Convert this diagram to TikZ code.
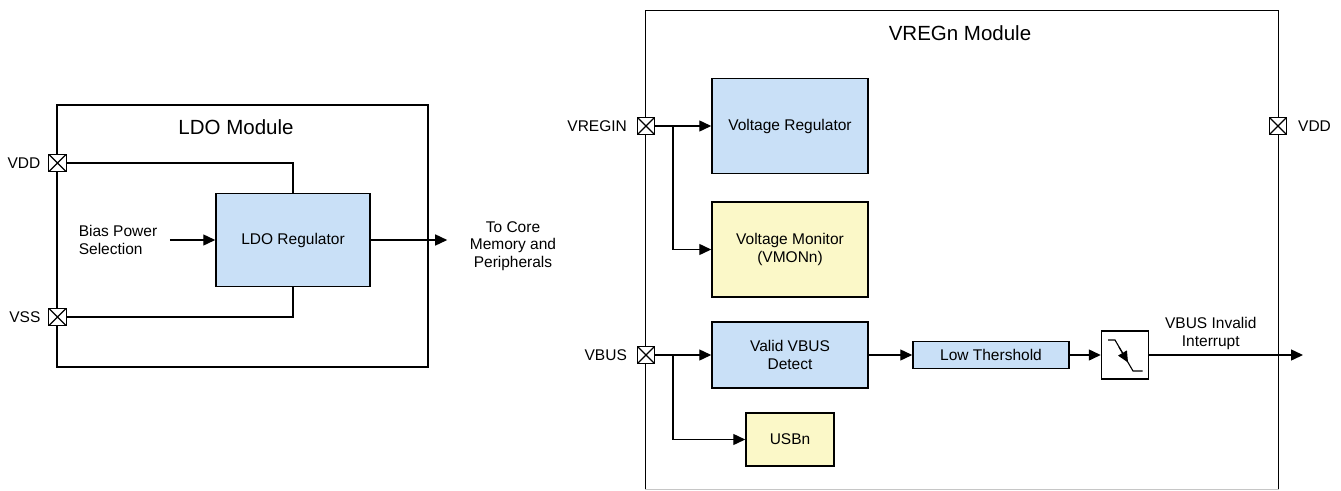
\documentclass[tikz,border=0pt]{standalone}
\usepackage{fontspec}
\setmainfont{Liberation Sans}
\usetikzlibrary{positioning,arrows.meta,calc}

\definecolor{regblue}{RGB}{201,224,247}
\definecolor{monyellow}{RGB}{251,248,200}

\begin{document}
\begin{tikzpicture}[
        x=1pt, y=-1pt,
        line width=1.4pt,
        every node/.style={font=\fontsize{15.5}{17.5}\selectfont, inner sep=3pt},
        block/.style={draw, line width=1.5pt, align=center},
        bluebox/.style={block, fill=regblue},
        yellowbox/.style={block, fill=monyellow},
        padbox/.style={draw, fill=white, minimum size=17.5pt, inner sep=0pt,
            path picture={\draw[line width=1.1pt] (path picture bounding box.north west) -- (path picture bounding box.south east)
                (path picture bounding box.north east) -- (path picture bounding box.south west);}},
        modtitle/.style={font=\fontsize{20.5}{24}\selectfont},
        >={Triangle[length=12pt,width=11pt]}
    ]
        \useasboundingbox (0,0) rectangle (1341,490);

        % LDO module
        \node (ldo) [draw, minimum width=371pt, minimum height=262pt] at (242.5,236) {};
        \node (ldo_title) [modtitle] at (236,127) {LDO Module};
        \node (ldoreg) [bluebox, minimum width=154pt, minimum height=93pt] at (293,240) {LDO Regulator};
        \node (bias) [align=left] at (118,240) {Bias Power\\Selection};
        \node (core) [align=center] at (513,246) {To Core\\Memory and\\Peripherals};

        \draw (57.5,163) -| (ldoreg.north);
        \draw (57.5,317) -| (ldoreg.south);
        \node (vdd_l) [padbox] at (57.5,163) {};
        \node (vss_l) [padbox] at (57.5,317) {};
        \node [left=4pt of vdd_l] {VDD};
        \node [left=4pt of vss_l] {VSS};

        \draw[->, shorten <=9pt] (bias) -- (ldoreg);
        \draw[->, shorten >=19pt] (ldoreg) -- (core.west |- ldoreg);

        % VREGn module
        \node (vreg) [minimum width=632pt, minimum height=478pt] at (962,250) {};
        \draw (vreg.south west) |- (vreg.north east) -- (vreg.south east);
        \draw[gray!45] (vreg.south west) -- (vreg.south east);
        \node (vreg_title) [modtitle] at (960,33) {VREGn Module};

        \node (vr) [bluebox, minimum width=156pt, minimum height=95pt] at (790,126) {Voltage Regulator};
        \node (vmon) [yellowbox, minimum width=156pt, minimum height=95pt] at (790,249.5) {Voltage Monitor\\(VMONn)};
        \node (vbusdet) [bluebox, minimum width=156pt, minimum height=66pt] at (790,355) {Valid VBUS\\Detect};
        \node (usb) [yellowbox, minimum width=88pt, minimum height=53pt] at (790,439.5) {USBn};
        \node (lowth) [bluebox, minimum width=156pt, minimum height=27pt, inner sep=0pt] at (991,355) {Low Thershold};
        \node (hyst) [block, minimum width=47pt, minimum height=48pt] at (1125,355) {};
        \coordinate (irq) at (1303,355);

        \node (vregin) [padbox] at (646,126) {};
        \node (vdd_r) [padbox] at (1278,126) {};
        \node (vbus) [padbox] at (646,355) {};
        \node [left=6pt of vregin] {VREGIN};
        \node [left=6pt of vbus] {VBUS};
        \node [right=7pt of vdd_r] {VDD};

        % Arrows
        \draw[->] (vregin) -- (vr);
        \draw[->] ([xshift=27pt]vregin.center) |- (vmon);
        \draw[->] (vbus) -- (vbusdet);
        \draw[->] ([xshift=27pt]vbus.center) |- (usb);
        \draw[->] (vbusdet) -- (lowth);
        \draw[->] (lowth) -- (hyst);
        \draw[->] (hyst) -- (irq) node (irq_lbl) [pos=0.4, above=2pt, align=center] {VBUS Invalid\\Interrupt};

        % hysteresis symbol
        \draw[line width=1.1pt] ($(hyst)+(-17,-15)$) -- ($(hyst)+(-10,-15)$) -- ($(hyst)+(8,16)$) -- ($(hyst)+(17.5,16)$);
        \draw[line width=1.1pt, -{Triangle[length=11pt,width=10pt]}] ($(hyst)+(-6,-8)$) -- ($(hyst)+(3,7.5)$);
    \end{tikzpicture}
\end{document}
